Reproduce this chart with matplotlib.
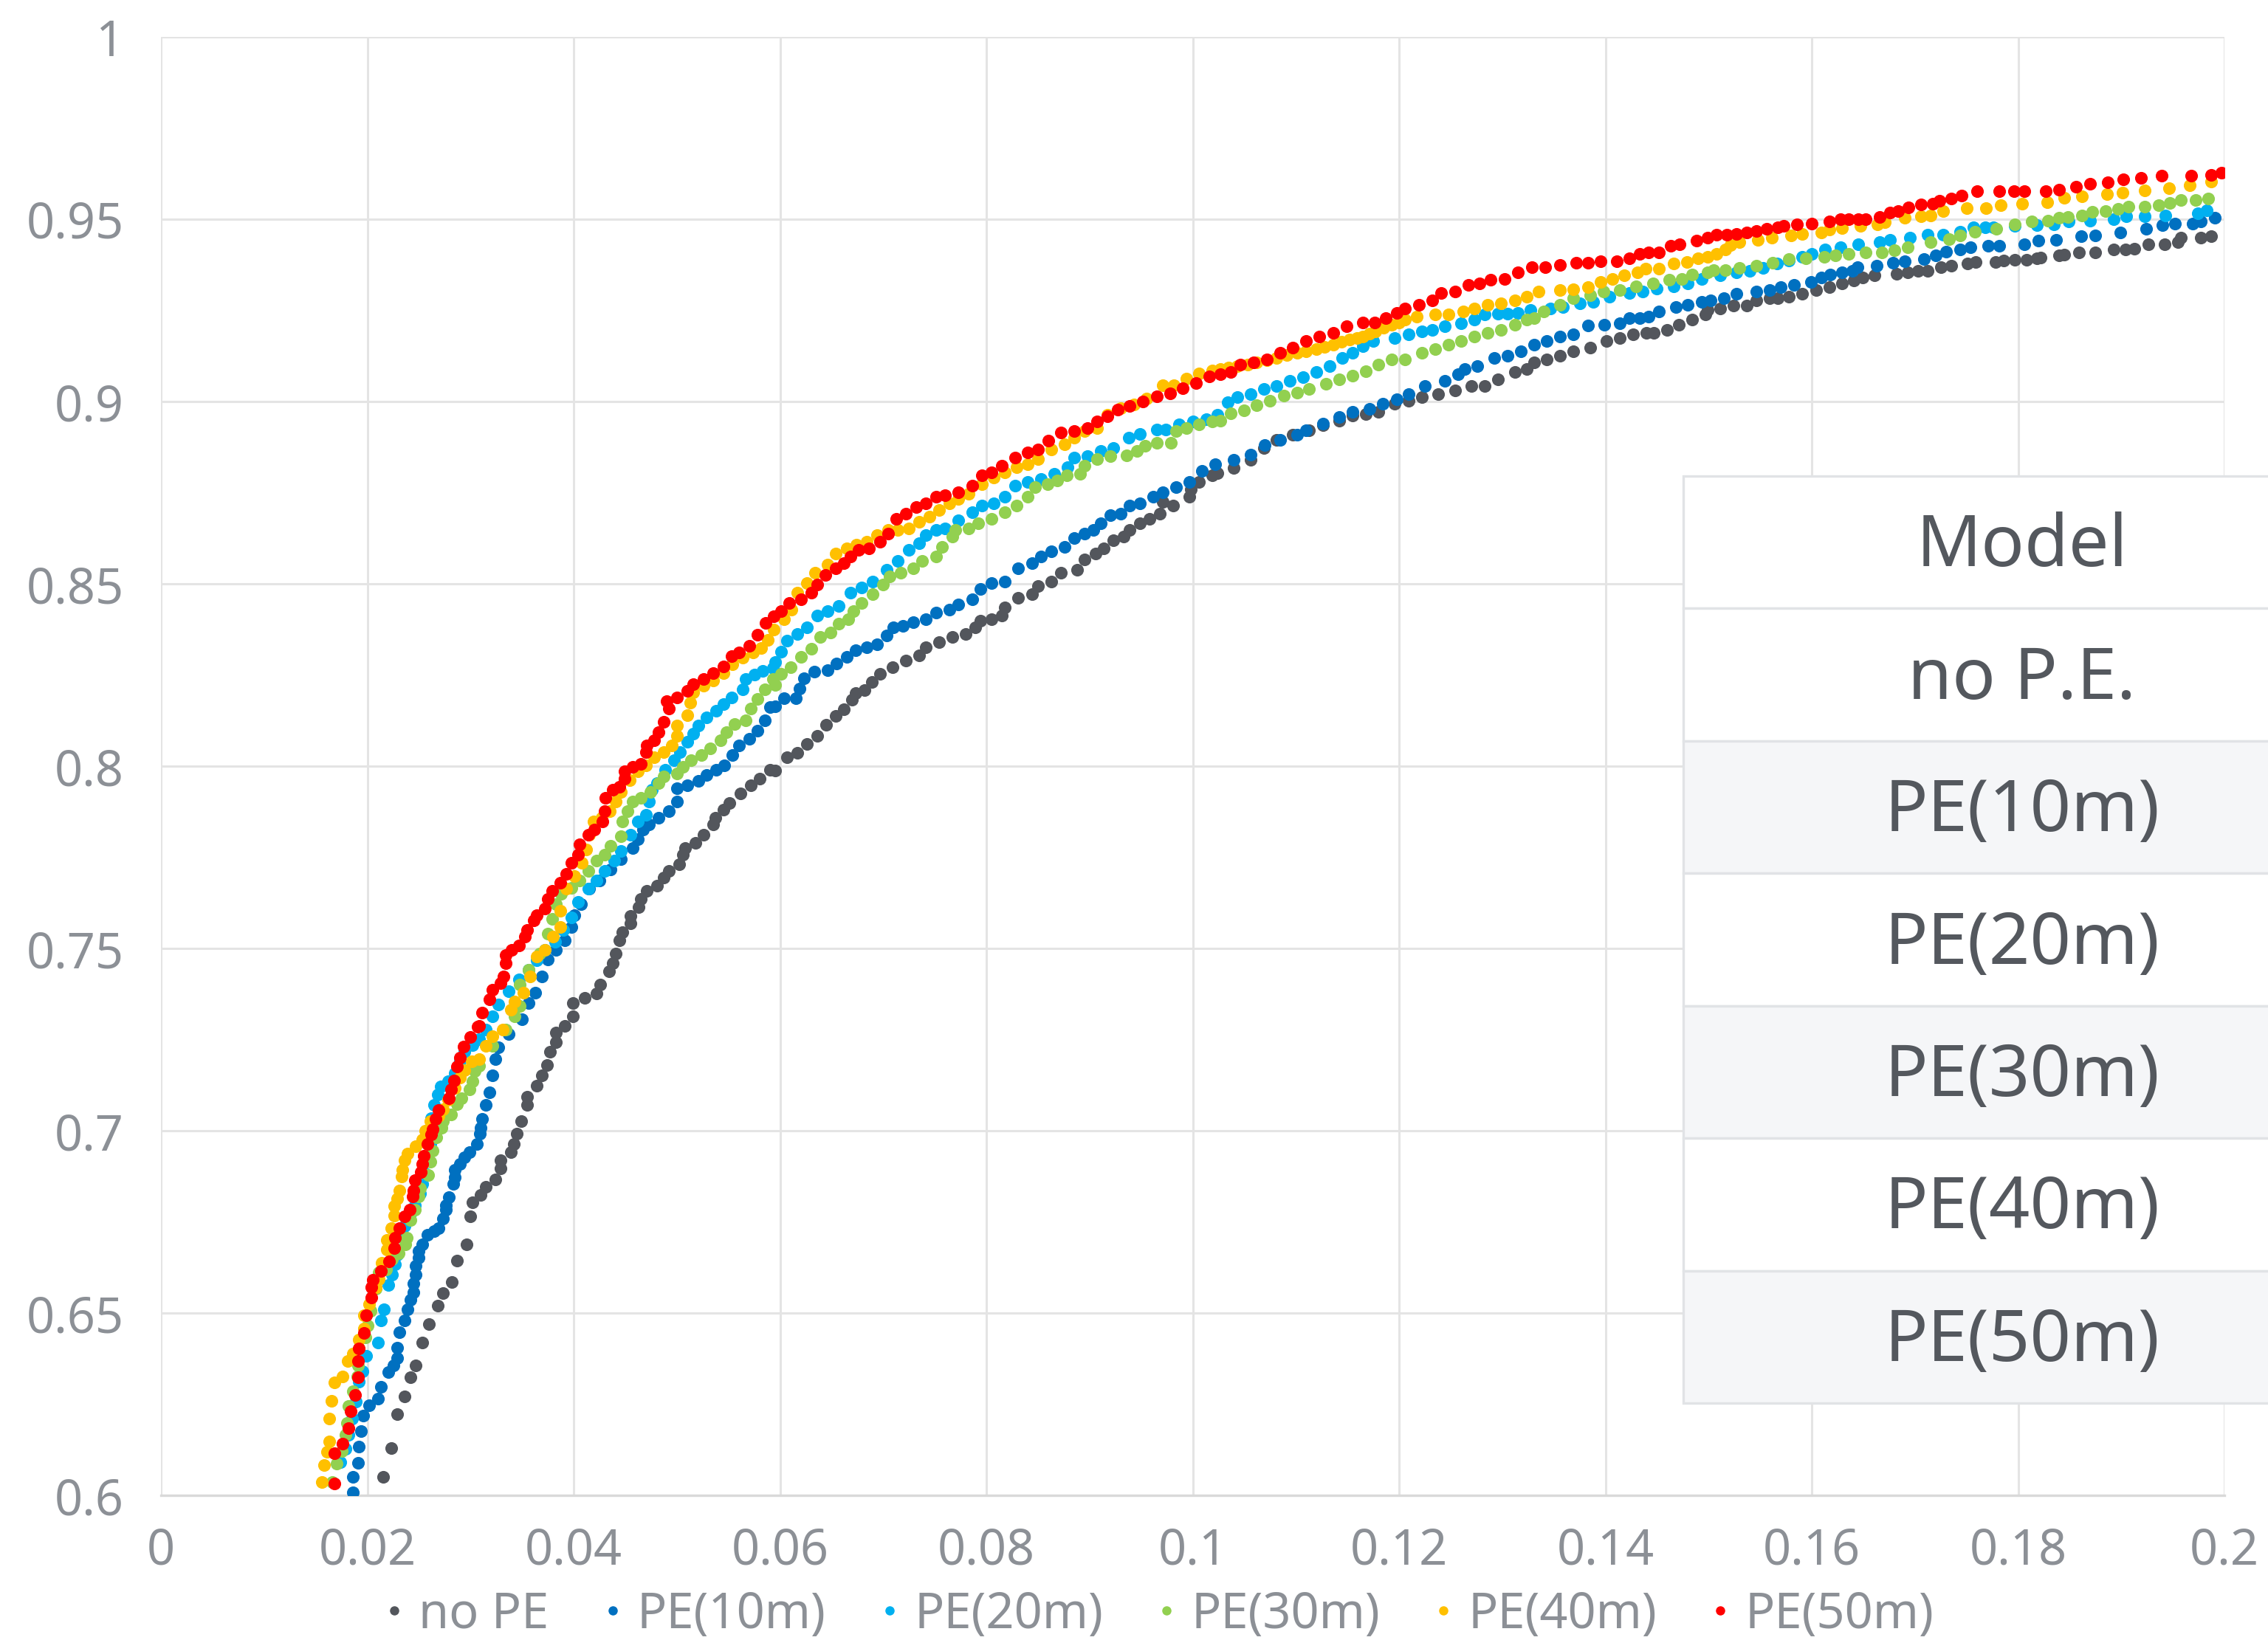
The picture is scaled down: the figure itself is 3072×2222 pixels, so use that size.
import matplotlib
matplotlib.use('Agg')
import matplotlib.pyplot as plt
from matplotlib.lines import Line2D
from matplotlib.patches import Rectangle

plt.rcParams['font.family'] = ['Noto Sans', 'DejaVu Sans']

# values (x = false rate, y = true rate)
no_pe_x = [0.0215, 0.0223, 0.0229, 0.0236, 0.0242, 0.0247, 0.0253, 0.0260, 0.0268, 0.0273, 0.0282, 0.0287,
           0.0296, 0.0300, 0.0302, 0.0310, 0.0315, 0.0324, 0.0329, 0.0329, 0.0339, 0.0342, 0.0345, 0.0349,
           0.0355, 0.0355, 0.0364, 0.0369, 0.0374, 0.0377, 0.0383, 0.0383, 0.0391, 0.0399, 0.0399, 0.0411,
           0.0422, 0.0426, 0.0434, 0.0438, 0.0441, 0.0444, 0.0447, 0.0455, 0.0455, 0.0463, 0.0465, 0.0471,
           0.0481, 0.0487, 0.0492, 0.0502, 0.0506, 0.0508, 0.0518, 0.0526, 0.0535, 0.0537, 0.0545, 0.0551,
           0.0562, 0.0572, 0.0580, 0.0590,
           0.0595, 0.0607, 0.0617, 0.0626, 0.0636, 0.0645, 0.0654, 0.0662, 0.0670, 0.0673, 0.0682, 0.0689,
           0.0697, 0.0709, 0.0722, 0.0735, 0.0741, 0.0754, 0.0767, 0.0780, 0.0789, 0.0794, 0.0805, 0.0815,
           0.0818, 0.0831, 0.0844, 0.0850, 0.0863, 0.0872, 0.0888, 0.0895, 0.0906, 0.0914, 0.0923, 0.0933,
           0.0939, 0.0949, 0.0958, 0.0968, 0.0971, 0.0981, 0.0997, 0.0998, 0.1006, 0.1019,
           0.1024, 0.1040, 0.1056, 0.1069, 0.1081, 0.1097, 0.1113, 0.1126, 0.1142, 0.1155, 0.1168, 0.1180,
           0.1196, 0.1209, 0.1222, 0.1238, 0.1254, 0.1270, 0.1283, 0.1296, 0.1312, 0.1324, 0.1331, 0.1343,
           0.1356, 0.1369, 0.1385, 0.1401, 0.1414, 0.1427, 0.1440, 0.1447, 0.1460, 0.1471, 0.1484, 0.1497,
           0.1499, 0.1511, 0.1524, 0.1537, 0.1546, 0.1559, 0.1567, 0.1578, 0.1591, 0.1604, 0.1617, 0.1629,
           0.1641, 0.1649, 0.1661, 0.1682, 0.1693, 0.1703, 0.1712, 0.1725, 0.1735, 0.1751, 0.1759, 0.1778,
           0.1786, 0.1797, 0.1808, 0.1818, 0.1822, 0.1840, 0.1845, 0.1859, 0.1875, 0.1893, 0.1904, 0.1913,
           0.1926, 0.1942, 0.1955, 0.1958, 0.1977, 0.1987]
no_pe_y = [0.6050, 0.6129, 0.6222, 0.6271, 0.6324, 0.6356, 0.6419, 0.6470, 0.6520, 0.6554, 0.6586, 0.6644,
           0.6688, 0.6766, 0.6803, 0.6824, 0.6846, 0.6866, 0.6896, 0.6920, 0.6941, 0.6964, 0.6991, 0.7027,
           0.7070, 0.7094, 0.7124, 0.7152, 0.7180, 0.7216, 0.7243, 0.7270, 0.7287, 0.7314, 0.7350, 0.7364,
           0.7377, 0.7400, 0.7437, 0.7459, 0.7486, 0.7523, 0.7545, 0.7568, 0.7590, 0.7613, 0.7636, 0.7658,
           0.7672, 0.7695, 0.7713, 0.7731, 0.7758, 0.7776, 0.7790, 0.7812, 0.7840, 0.7858, 0.7880, 0.7899,
           0.7926, 0.7948, 0.7966, 0.7989,
           0.7987, 0.8024, 0.8037, 0.8060, 0.8082, 0.8114, 0.8137, 0.8155, 0.8182, 0.8200, 0.8209, 0.8231,
           0.8254, 0.8272, 0.8290, 0.8304, 0.8326, 0.8340, 0.8354, 0.8363, 0.8381, 0.8399, 0.8403, 0.8412,
           0.8435, 0.8462, 0.8471, 0.8494, 0.8507, 0.8530, 0.8539, 0.8566, 0.8584, 0.8598, 0.8620, 0.8629,
           0.8647, 0.8666, 0.8679, 0.8693, 0.8724, 0.8715, 0.8738, 0.8760, 0.8779, 0.8797,
           0.8804, 0.8817, 0.8840, 0.8872, 0.8894, 0.8908, 0.8921, 0.8935, 0.8948, 0.8962, 0.8965, 0.8971,
           0.8994, 0.9003, 0.9012, 0.9021, 0.9030, 0.9043, 0.9043, 0.9061, 0.9080, 0.9089, 0.9107, 0.9116,
           0.9125, 0.9138, 0.9147, 0.9165, 0.9175, 0.9184, 0.9188, 0.9188, 0.9197, 0.9211, 0.9224, 0.9238,
           0.9251, 0.9255, 0.9264, 0.9264, 0.9278, 0.9283, 0.9284, 0.9287, 0.9296, 0.9305, 0.9314, 0.9323,
           0.9332, 0.9341, 0.9346, 0.9350, 0.9355, 0.9359, 0.9359, 0.9369, 0.9373, 0.9378, 0.9382, 0.9382,
           0.9387, 0.9389, 0.9389, 0.9393, 0.9394, 0.9400, 0.9403, 0.9408, 0.9409, 0.9418, 0.9418, 0.9420,
           0.9432, 0.9432, 0.9437, 0.9450, 0.9450, 0.9453]

pe10_x = [0.0186, 0.0186, 0.0191, 0.0192, 0.0194, 0.0196, 0.0202, 0.0210, 0.0213, 0.0220, 0.0225, 0.0229,
          0.0229, 0.0231, 0.0236, 0.0239, 0.0242, 0.0245, 0.0245, 0.0247, 0.0247, 0.0250, 0.0250, 0.0253,
          0.0258, 0.0265, 0.0269, 0.0273, 0.0276, 0.0276, 0.0279, 0.0283, 0.0285, 0.0285, 0.0290, 0.0294,
          0.0299, 0.0306, 0.0309, 0.0310, 0.0311,
          0.0315, 0.0318, 0.0321, 0.0324, 0.0327, 0.0337, 0.0350, 0.0356, 0.0363, 0.0369, 0.0375, 0.0383,
          0.0391, 0.0398, 0.0401, 0.0407, 0.0415, 0.0425, 0.0436, 0.0446, 0.0457, 0.0462, 0.0467, 0.0473,
          0.0482, 0.0492, 0.0500, 0.0500, 0.0510, 0.0521, 0.0529, 0.0538, 0.0546, 0.0554, 0.0560, 0.0570,
          0.0578, 0.0585, 0.0590,
          0.0595, 0.0604, 0.0615, 0.0619, 0.0623, 0.0633, 0.0646, 0.0655, 0.0665, 0.0673, 0.0684, 0.0694,
          0.0703, 0.0710, 0.0719, 0.0729, 0.0741, 0.0751, 0.0764, 0.0773, 0.0786, 0.0794, 0.0805, 0.0818,
          0.0831, 0.0844, 0.0853, 0.0863, 0.0876, 0.0885, 0.0895, 0.0904, 0.0911, 0.0920, 0.0930, 0.0939,
          0.0949, 0.0962, 0.0971, 0.0984, 0.0997, 0.1009, 0.1022,
          0.1040, 0.1056, 0.1070, 0.1085, 0.1101, 0.1110, 0.1126, 0.1142, 0.1155, 0.1171, 0.1184, 0.1198,
          0.1209, 0.1225, 0.1244, 0.1257, 0.1264, 0.1276, 0.1292, 0.1305, 0.1318, 0.1331, 0.1343, 0.1356,
          0.1369, 0.1383, 0.1399, 0.1414, 0.1423, 0.1433, 0.1442, 0.1452, 0.1468, 0.1480, 0.1493,
          0.1502, 0.1515, 0.1527, 0.1546, 0.1559, 0.1570, 0.1583, 0.1599, 0.1609, 0.1618, 0.1629, 0.1639,
          0.1644, 0.1663, 0.1679, 0.1690, 0.1709, 0.1720, 0.1730, 0.1744, 0.1754, 0.1771, 0.1782, 0.1806,
          0.1820, 0.1837, 0.1861, 0.1875, 0.1899, 0.1924, 0.1940, 0.1952, 0.1969, 0.1977, 0.1991]
pe10_y = [0.6009, 0.6050, 0.6089, 0.6134, 0.6176, 0.6218, 0.6247, 0.6265, 0.6298, 0.6339, 0.6357, 0.6376,
          0.6405, 0.6448, 0.6480, 0.6511, 0.6537, 0.6557, 0.6582, 0.6606, 0.6629, 0.6652, 0.6670, 0.6688,
          0.6715, 0.6724, 0.6733, 0.6760, 0.6783, 0.6796, 0.6817, 0.6855, 0.6873, 0.6893, 0.6909, 0.6928,
          0.6941, 0.6964, 0.6991, 0.7009, 0.7032,
          0.7070, 0.7106, 0.7152, 0.7197, 0.7229, 0.7265, 0.7306, 0.7351, 0.7378, 0.7423, 0.7469, 0.7496,
          0.7523, 0.7559, 0.7591, 0.7622, 0.7663, 0.7686, 0.7717, 0.7745, 0.7776, 0.7799, 0.7826, 0.7840,
          0.7858, 0.7876, 0.7903, 0.7939, 0.7948, 0.7959, 0.7976, 0.7989, 0.8003, 0.8030, 0.8057, 0.8075,
          0.8098, 0.8125, 0.8161,
          0.8164, 0.8186, 0.8186, 0.8213, 0.8241, 0.8259, 0.8263, 0.8281, 0.8299, 0.8317, 0.8326, 0.8335,
          0.8358, 0.8381, 0.8385, 0.8394, 0.8403, 0.8421, 0.8430, 0.8444, 0.8458, 0.8485, 0.8503, 0.8507,
          0.8543, 0.8557, 0.8575, 0.8589, 0.8602, 0.8625, 0.8638, 0.8647, 0.8666, 0.8688, 0.8693, 0.8715,
          0.8720, 0.8738, 0.8751, 0.8765, 0.8779, 0.8810, 0.8828,
          0.8840, 0.8854, 0.8881, 0.8894, 0.8908, 0.8921, 0.8939, 0.8957, 0.8971, 0.8980, 0.8994, 0.9007,
          0.9021, 0.9043, 0.9057, 0.9075, 0.9089, 0.9098, 0.9120, 0.9125, 0.9138, 0.9156, 0.9165, 0.9179,
          0.9184, 0.9208, 0.9211, 0.9215, 0.9229, 0.9229, 0.9233, 0.9247, 0.9260, 0.9265, 0.9274,
          0.9278, 0.9284, 0.9296, 0.9301, 0.9305, 0.9314, 0.9319, 0.9328, 0.9341, 0.9349, 0.9355, 0.9359,
          0.9369, 0.9373, 0.9380, 0.9384, 0.9391, 0.9400, 0.9411, 0.9417, 0.9423, 0.9428, 0.9428, 0.9432,
          0.9441, 0.9444, 0.9453, 0.9455, 0.9464, 0.9473, 0.9484, 0.9488, 0.9488, 0.9493, 0.9505]

pe20_x = [0.0174, 0.0179, 0.0182, 0.0185, 0.0189, 0.0192, 0.0195, 0.0199, 0.0210, 0.0213, 0.0216, 0.0220,
          0.0224, 0.0227, 0.0229, 0.0231, 0.0236, 0.0242, 0.0246, 0.0251, 0.0253, 0.0256, 0.0259, 0.0261,
          0.0261, 0.0262, 0.0265, 0.0268, 0.0271, 0.0278, 0.0285, 0.0290, 0.0294, 0.0302,
          0.0308, 0.0315, 0.0321, 0.0327, 0.0337, 0.0347, 0.0356, 0.0364, 0.0372, 0.0382, 0.0390, 0.0398,
          0.0404, 0.0414, 0.0422, 0.0430, 0.0439, 0.0446, 0.0455, 0.0462, 0.0470, 0.0473, 0.0476, 0.0481,
          0.0489, 0.0497, 0.0503, 0.0510, 0.0516, 0.0521, 0.0529, 0.0538, 0.0545, 0.0553, 0.0564, 0.0567,
          0.0575, 0.0583, 0.0593,
          0.0595, 0.0601, 0.0607, 0.0617, 0.0626, 0.0636, 0.0646, 0.0657, 0.0668, 0.0679, 0.0690, 0.0703,
          0.0714, 0.0725, 0.0735, 0.0741, 0.0751, 0.0760, 0.0773, 0.0786, 0.0796, 0.0807, 0.0818, 0.0828,
          0.0840, 0.0853, 0.0866, 0.0879, 0.0885, 0.0898, 0.0911, 0.0923, 0.0938, 0.0949, 0.0965, 0.0974,
          0.0987, 0.1000, 0.1013, 0.1024,
          0.1034, 0.1043, 0.1056, 0.1069, 0.1081, 0.1094, 0.1107, 0.1120, 0.1133, 0.1145, 0.1155, 0.1165,
          0.1175, 0.1196, 0.1209, 0.1222, 0.1232, 0.1244, 0.1260, 0.1273, 0.1283, 0.1296, 0.1305, 0.1315,
          0.1327, 0.1347, 0.1359, 0.1375, 0.1388, 0.1404, 0.1423, 0.1436, 0.1450, 0.1466, 0.1480, 0.1493,
          0.1511, 0.1527, 0.1540, 0.1553, 0.1566, 0.1578, 0.1591, 0.1600, 0.1613, 0.1628, 0.1645, 0.1666,
          0.1676, 0.1695, 0.1712, 0.1727, 0.1744, 0.1757, 0.1768, 0.1776, 0.1797, 0.1818, 0.1835, 0.1849,
          0.1870, 0.1893, 0.1905, 0.1923, 0.1943, 0.1974, 0.1983]
pe20_y = [0.6091, 0.6127, 0.6167, 0.6211, 0.6258, 0.6312, 0.6341, 0.6383, 0.6419, 0.6480, 0.6511, 0.6576,
          0.6606, 0.6633, 0.6660, 0.6710, 0.6738, 0.6774, 0.6796, 0.6828, 0.6855, 0.6882, 0.6919, 0.6964,
          0.7000, 0.7034, 0.7070, 0.7100, 0.7122, 0.7136, 0.7158, 0.7190, 0.7217, 0.7235,
          0.7251, 0.7278, 0.7314, 0.7346, 0.7382, 0.7414, 0.7441, 0.7468, 0.7496, 0.7518, 0.7550, 0.7586,
          0.7627, 0.7663, 0.7686, 0.7713, 0.7740, 0.7767, 0.7812, 0.7849, 0.7867, 0.7903, 0.7935, 0.7953,
          0.7989, 0.8016, 0.8039, 0.8066, 0.8089, 0.8111, 0.8134, 0.8152, 0.8170, 0.8188, 0.8211, 0.8238,
          0.8252, 0.8261, 0.8270,
          0.8286, 0.8313, 0.8345, 0.8363, 0.8381, 0.8412, 0.8426, 0.8439, 0.8476, 0.8489, 0.8507, 0.8539,
          0.8562, 0.8593, 0.8611, 0.8634, 0.8647, 0.8652, 0.8675, 0.8697, 0.8715, 0.8720, 0.8738, 0.8770,
          0.8779, 0.8788, 0.8801, 0.8819, 0.8846, 0.8851, 0.8864, 0.8873, 0.8901, 0.8910, 0.8924, 0.8924,
          0.8937, 0.8946, 0.8951, 0.8964,
          0.8998, 0.9012, 0.9021, 0.9034, 0.9043, 0.9057, 0.9066, 0.9080, 0.9098, 0.9120, 0.9134, 0.9152,
          0.9165, 0.9175, 0.9184, 0.9193, 0.9197, 0.9206, 0.9215, 0.9224, 0.9238, 0.9240, 0.9240, 0.9242,
          0.9251, 0.9256, 0.9260, 0.9269, 0.9274, 0.9288, 0.9297, 0.9301, 0.9310, 0.9315, 0.9324, 0.9337,
          0.9346, 0.9355, 0.9359, 0.9366, 0.9378, 0.9387, 0.9396, 0.9405, 0.9418, 0.9423, 0.9432, 0.9437,
          0.9444, 0.9450, 0.9457, 0.9457, 0.9466, 0.9477, 0.9477, 0.9477, 0.9482, 0.9484, 0.9486, 0.9493,
          0.9495, 0.9500, 0.9509, 0.9509, 0.9511, 0.9516, 0.9525]

pe30_x = [0.0166, 0.0170, 0.0175, 0.0179, 0.0180, 0.0182, 0.0186, 0.0190, 0.0191, 0.0192, 0.0198, 0.0200,
          0.0203, 0.0208, 0.0211, 0.0218, 0.0224, 0.0230, 0.0237, 0.0238, 0.0242, 0.0246, 0.0250, 0.0251,
          0.0259, 0.0261, 0.0263, 0.0267, 0.0272, 0.0273, 0.0281, 0.0287, 0.0291, 0.0299, 0.0302, 0.0304,
          0.0308, 0.0321, 0.0334, 0.0343, 0.0348, 0.0348, 0.0356, 0.0367, 0.0375, 0.0379, 0.0383, 0.0388,
          0.0398, 0.0406, 0.0414, 0.0422, 0.0430, 0.0436, 0.0446, 0.0447, 0.0452, 0.0457, 0.0465, 0.0474,
          0.0482, 0.0487, 0.0500, 0.0506, 0.0514, 0.0524, 0.0532, 0.0542, 0.0548, 0.0556, 0.0567, 0.0572,
          0.0578, 0.0585, 0.0593,
          0.0595, 0.0601, 0.0610, 0.0620, 0.0630, 0.0639, 0.0649, 0.0657, 0.0666, 0.0671, 0.0679, 0.0690,
          0.0700, 0.0706, 0.0717, 0.0729, 0.0738, 0.0751, 0.0757, 0.0767, 0.0770, 0.0783, 0.0792, 0.0805,
          0.0818, 0.0829, 0.0840, 0.0847, 0.0859, 0.0869, 0.0878, 0.0891, 0.0895, 0.0907, 0.0920, 0.0936,
          0.0946, 0.0954, 0.0965, 0.0979, 0.0984, 0.0994, 0.1006, 0.1019,
          0.1027, 0.1037, 0.1050, 0.1062, 0.1075, 0.1088, 0.1101, 0.1113, 0.1129, 0.1142, 0.1155, 0.1168,
          0.1180, 0.1193, 0.1206, 0.1222, 0.1235, 0.1248, 0.1260, 0.1273, 0.1286, 0.1299, 0.1312, 0.1324,
          0.1331, 0.1340, 0.1356, 0.1369, 0.1385, 0.1398, 0.1414, 0.1430, 0.1446, 0.1462, 0.1474, 0.1484,
          0.1499,
          0.1505, 0.1516, 0.1530, 0.1546, 0.1562, 0.1578, 0.1594, 0.1612, 0.1623, 0.1636, 0.1652, 0.1668,
          0.1680, 0.1693, 0.1715, 0.1733, 0.1744, 0.1758, 0.1779, 0.1797, 0.1813, 0.1829, 0.1840, 0.1848,
          0.1862, 0.1872, 0.1885, 0.1897, 0.1907, 0.1923, 0.1936, 0.1947, 0.1958, 0.1972, 0.1984]
pe30_y = [0.6036, 0.6088, 0.6122, 0.6167, 0.6199, 0.6244, 0.6285, 0.6326, 0.6357, 0.6403, 0.6434, 0.6466,
          0.6507, 0.6566, 0.6611, 0.6620, 0.6647, 0.6665, 0.6688, 0.6706, 0.6756, 0.6783, 0.6819, 0.6842,
          0.6878, 0.6914, 0.6946, 0.6982, 0.7009, 0.7027, 0.7045, 0.7072, 0.7090, 0.7113, 0.7136, 0.7163,
          0.7179, 0.7233, 0.7278, 0.7314, 0.7342, 0.7400, 0.7441, 0.7486, 0.7541, 0.7582, 0.7622, 0.7649,
          0.7667, 0.7686, 0.7713, 0.7740, 0.7758, 0.7781, 0.7808, 0.7849, 0.7876, 0.7903, 0.7912, 0.7930,
          0.7953, 0.7971, 0.7980, 0.7998, 0.8016, 0.8030, 0.8048, 0.8071, 0.8093, 0.8116, 0.8125, 0.8157,
          0.8184, 0.8211, 0.8238,
          0.8222, 0.8254, 0.8272, 0.8299, 0.8322, 0.8354, 0.8367, 0.8390, 0.8403, 0.8426, 0.8448, 0.8471,
          0.8498, 0.8521, 0.8530, 0.8543, 0.8562, 0.8575, 0.8602, 0.8629, 0.8647, 0.8652, 0.8666, 0.8679,
          0.8697, 0.8715, 0.8738, 0.8765, 0.8774, 0.8783, 0.8797, 0.8801, 0.8824, 0.8842, 0.8851, 0.8853,
          0.8864, 0.8878, 0.8887, 0.8887, 0.8919, 0.8928, 0.8937, 0.8946,
          0.8948, 0.8967, 0.8976, 0.8989, 0.9003, 0.9016, 0.9025, 0.9034, 0.9048, 0.9061, 0.9070, 0.9084,
          0.9102, 0.9116, 0.9116, 0.9134, 0.9143, 0.9156, 0.9165, 0.9179, 0.9188, 0.9197, 0.9211, 0.9224,
          0.9229, 0.9247, 0.9265, 0.9283, 0.9292, 0.9301, 0.9306, 0.9315, 0.9324, 0.9333, 0.9337, 0.9349,
          0.9355,
          0.9360, 0.9360, 0.9366, 0.9373, 0.9380, 0.9391, 0.9393, 0.9396, 0.9400, 0.9405, 0.9408, 0.9409,
          0.9414, 0.9423, 0.9437, 0.9446, 0.9455, 0.9466, 0.9473, 0.9486, 0.9493, 0.9495, 0.9505, 0.9507,
          0.9511, 0.9520, 0.9523, 0.9529, 0.9534, 0.9534, 0.9538, 0.9545, 0.9552, 0.9552, 0.9557]

pe40_x = [0.0156, 0.0158, 0.0161, 0.0163, 0.0163, 0.0165, 0.0168, 0.0176, 0.0181, 0.0186, 0.0192, 0.0197,
          0.0197, 0.0202, 0.0208, 0.0211, 0.0214, 0.0219, 0.0219, 0.0223, 0.0226, 0.0226, 0.0229, 0.0231,
          0.0233, 0.0234, 0.0236, 0.0239, 0.0247, 0.0253, 0.0256, 0.0261, 0.0269, 0.0273, 0.0278, 0.0285,
          0.0290, 0.0294, 0.0301,
          0.0308, 0.0315, 0.0321, 0.0331, 0.0339, 0.0343, 0.0351, 0.0358, 0.0364, 0.0372, 0.0380, 0.0387,
          0.0387, 0.0393, 0.0401, 0.0408, 0.0412, 0.0415, 0.0419, 0.0427, 0.0435, 0.0441, 0.0446, 0.0454,
          0.0462, 0.0470, 0.0478, 0.0487, 0.0495, 0.0500, 0.0500, 0.0510, 0.0513, 0.0516, 0.0526, 0.0535,
          0.0545, 0.0554, 0.0564, 0.0574, 0.0582, 0.0588, 0.0594,
          0.0604, 0.0611, 0.0617, 0.0626, 0.0634, 0.0646, 0.0654, 0.0665, 0.0674, 0.0684, 0.0694, 0.0705,
          0.0714, 0.0725, 0.0735, 0.0745, 0.0754, 0.0764, 0.0773, 0.0783, 0.0796, 0.0807, 0.0818, 0.0829,
          0.0840, 0.0850, 0.0863, 0.0876, 0.0885, 0.0895, 0.0907, 0.0917, 0.0930, 0.0943, 0.0955, 0.0971,
          0.0982, 0.0994, 0.1006, 0.1019,
          0.1027, 0.1035, 0.1043, 0.1053, 0.1062, 0.1072, 0.1081, 0.1091, 0.1101, 0.1110, 0.1120, 0.1128,
          0.1136, 0.1144, 0.1152, 0.1159, 0.1165, 0.1171, 0.1177, 0.1185, 0.1193, 0.1200, 0.1206, 0.1217,
          0.1235, 0.1248, 0.1262, 0.1273, 0.1286, 0.1299, 0.1312, 0.1324, 0.1335, 0.1356, 0.1369, 0.1383,
          0.1395, 0.1407, 0.1418, 0.1431, 0.1439, 0.1452, 0.1466, 0.1479, 0.1490,
          0.1499, 0.1508, 0.1516, 0.1521, 0.1530, 0.1548, 0.1561, 0.1580, 0.1591, 0.1609, 0.1617, 0.1629,
          0.1647, 0.1664, 0.1671, 0.1690, 0.1706, 0.1715, 0.1727, 0.1750, 0.1769, 0.1783, 0.1804, 0.1828,
          0.1845, 0.1862, 0.1886, 0.1901, 0.1923, 0.1946, 0.1966, 0.1987]
pe40_y = [0.6036, 0.6083, 0.6120, 0.6147, 0.6210, 0.6260, 0.6310, 0.6326, 0.6369, 0.6389, 0.6428, 0.6457,
          0.6493, 0.6525, 0.6570, 0.6593, 0.6638, 0.6674, 0.6701, 0.6733, 0.6767, 0.6794, 0.6814, 0.6837,
          0.6875, 0.6893, 0.6919, 0.6937, 0.6957, 0.6975, 0.7000, 0.7027, 0.7041, 0.7059, 0.7086, 0.7118,
          0.7145, 0.7167, 0.7190,
          0.7197, 0.7233, 0.7260, 0.7278, 0.7333, 0.7355, 0.7378, 0.7423, 0.7477, 0.7496, 0.7532, 0.7559,
          0.7604, 0.7663, 0.7699, 0.7735, 0.7772, 0.7812, 0.7849, 0.7858, 0.7876, 0.7903, 0.7930, 0.7962,
          0.7985, 0.8003, 0.8025, 0.8039, 0.8057, 0.8084, 0.8111, 0.8139, 0.8175, 0.8202, 0.8220, 0.8234,
          0.8256, 0.8279, 0.8297, 0.8311, 0.8324, 0.8347, 0.8374,
          0.8403, 0.8430, 0.8476, 0.8503, 0.8530, 0.8552, 0.8584, 0.8598, 0.8607, 0.8616, 0.8634, 0.8647,
          0.8648, 0.8652, 0.8670, 0.8684, 0.8702, 0.8720, 0.8733, 0.8747, 0.8774, 0.8792, 0.8806, 0.8819,
          0.8828, 0.8842, 0.8869, 0.8882, 0.8901, 0.8919, 0.8928, 0.8964, 0.8982, 0.8991, 0.9009, 0.9045,
          0.9045, 0.9063, 0.9077, 0.9086,
          0.9089, 0.9093, 0.9098, 0.9102, 0.9107, 0.9114, 0.9120, 0.9127, 0.9134, 0.9138, 0.9143, 0.9150,
          0.9156, 0.9163, 0.9170, 0.9175, 0.9179, 0.9186, 0.9193, 0.9202, 0.9211, 0.9217, 0.9224, 0.9233,
          0.9238, 0.9238, 0.9247, 0.9256, 0.9265, 0.9269, 0.9278, 0.9288, 0.9301, 0.9306, 0.9307, 0.9313,
          0.9328, 0.9337, 0.9346, 0.9355, 0.9364, 0.9364, 0.9378, 0.9382, 0.9392,
          0.9396, 0.9405, 0.9418, 0.9429, 0.9437, 0.9443, 0.9450, 0.9455, 0.9459, 0.9464, 0.9471, 0.9475,
          0.9482, 0.9486, 0.9491, 0.9505, 0.9509, 0.9511, 0.9523, 0.9530, 0.9531, 0.9538, 0.9543, 0.9547,
          0.9559, 0.9562, 0.9568, 0.9572, 0.9579, 0.9586, 0.9593, 0.9604]

pe50_x = [0.0168, 0.0168, 0.0176, 0.0182, 0.0184, 0.0188, 0.0191, 0.0191, 0.0192, 0.0197, 0.0199, 0.0204,
          0.0204, 0.0205, 0.0213, 0.0221, 0.0226, 0.0227, 0.0231, 0.0236, 0.0241, 0.0244, 0.0245, 0.0246,
          0.0252, 0.0253, 0.0255, 0.0258, 0.0262, 0.0263, 0.0266, 0.0269, 0.0279, 0.0281, 0.0284, 0.0287,
          0.0290, 0.0293, 0.0300, 0.0307,
          0.0308, 0.0311, 0.0318, 0.0321, 0.0329, 0.0332, 0.0334, 0.0334, 0.0340, 0.0347, 0.0353, 0.0355,
          0.0361, 0.0364, 0.0372, 0.0375, 0.0379, 0.0387, 0.0393, 0.0398, 0.0404, 0.0406, 0.0414, 0.0420,
          0.0428, 0.0430, 0.0431, 0.0438, 0.0444, 0.0449, 0.0449, 0.0457, 0.0465, 0.0470, 0.0471, 0.0478,
          0.0482, 0.0487, 0.0492, 0.0490, 0.0500, 0.0510, 0.0516, 0.0526, 0.0535, 0.0545, 0.0553, 0.0560,
          0.0570, 0.0578, 0.0586, 0.0594,
          0.0601, 0.0609, 0.0620, 0.0630, 0.0636, 0.0644, 0.0654, 0.0662, 0.0668, 0.0676, 0.0686, 0.0697,
          0.0705, 0.0713, 0.0722, 0.0732, 0.0741, 0.0751, 0.0760, 0.0773, 0.0786, 0.0796, 0.0805, 0.0815,
          0.0828, 0.0840, 0.0850, 0.0860, 0.0872, 0.0885, 0.0898, 0.0907, 0.0917, 0.0927, 0.0939, 0.0952,
          0.0965, 0.0978, 0.0990, 0.1003, 0.1016,
          0.1027, 0.1037, 0.1046, 0.1059, 0.1072, 0.1085, 0.1097, 0.1110, 0.1123, 0.1136, 0.1149, 0.1165,
          0.1176, 0.1187, 0.1198, 0.1206, 0.1219, 0.1232, 0.1241, 0.1254, 0.1267, 0.1278, 0.1289, 0.1302,
          0.1315, 0.1329, 0.1342, 0.1356, 0.1372, 0.1383, 0.1395, 0.1411, 0.1423, 0.1433, 0.1442, 0.1452,
          0.1463, 0.1472, 0.1488,
          0.1499, 0.1508, 0.1518, 0.1527, 0.1537, 0.1546, 0.1556, 0.1567, 0.1573, 0.1586, 0.1600, 0.1617,
          0.1628, 0.1636, 0.1645, 0.1652, 0.1666, 0.1676, 0.1684, 0.1694, 0.1706, 0.1717, 0.1724, 0.1735,
          0.1745, 0.1760, 0.1782, 0.1796, 0.1806, 0.1827, 0.1840, 0.1856, 0.1870, 0.1887, 0.1902, 0.1919,
          0.1939, 0.1968, 0.1987, 0.1997]
pe50_y = [0.6033, 0.6115, 0.6142, 0.6184, 0.6231, 0.6276, 0.6324, 0.6369, 0.6403, 0.6446, 0.6493, 0.6543,
          0.6570, 0.6591, 0.6615, 0.6641, 0.6679, 0.6706, 0.6733, 0.6766, 0.6783, 0.6819, 0.6837, 0.6864,
          0.6887, 0.6909, 0.6932, 0.6964, 0.6989, 0.7005, 0.7032, 0.7056, 0.7090, 0.7113, 0.7138, 0.7176,
          0.7201, 0.7231, 0.7258, 0.7285,
          0.7287, 0.7323, 0.7360, 0.7387, 0.7405, 0.7423, 0.7459, 0.7482, 0.7496, 0.7509, 0.7532, 0.7550,
          0.7577, 0.7591, 0.7609, 0.7636, 0.7658, 0.7681, 0.7704, 0.7735, 0.7758, 0.7785, 0.7812, 0.7826,
          0.7849, 0.7876, 0.7912, 0.7935, 0.7944, 0.7966, 0.7985, 0.7998, 0.8007, 0.8039, 0.8057, 0.8071,
          0.8093, 0.8121, 0.8157, 0.8179, 0.8188, 0.8206, 0.8225, 0.8238, 0.8256, 0.8274, 0.8302, 0.8311,
          0.8329, 0.8361, 0.8392, 0.8410,
          0.8426, 0.8448, 0.8457, 0.8476, 0.8498, 0.8525, 0.8543, 0.8557, 0.8575, 0.8593, 0.8598, 0.8616,
          0.8638, 0.8679, 0.8693, 0.8711, 0.8720, 0.8738, 0.8742, 0.8751, 0.8770, 0.8797, 0.8806, 0.8824,
          0.8846, 0.8860, 0.8869, 0.8892, 0.8914, 0.8919, 0.8928, 0.8946, 0.8960, 0.8978, 0.8987, 0.9000,
          0.9014, 0.9023, 0.9036, 0.9050, 0.9068,
          0.9075, 0.9080, 0.9102, 0.9107, 0.9116, 0.9134, 0.9147, 0.9165, 0.9179, 0.9188, 0.9206, 0.9217,
          0.9217, 0.9229, 0.9242, 0.9256, 0.9265, 0.9278, 0.9297, 0.9301, 0.9319, 0.9324, 0.9335, 0.9337,
          0.9355, 0.9369, 0.9369, 0.9375, 0.9381, 0.9381, 0.9384, 0.9384, 0.9392, 0.9405, 0.9409, 0.9409,
          0.9428, 0.9432, 0.9441,
          0.9450, 0.9457, 0.9457, 0.9459, 0.9464, 0.9468, 0.9473, 0.9477, 0.9482, 0.9486, 0.9488, 0.9493,
          0.9500, 0.9500, 0.9500, 0.9500, 0.9507, 0.9518, 0.9523, 0.9532, 0.9541, 0.9543, 0.9550, 0.9556,
          0.9565, 0.9577, 0.9577, 0.9577, 0.9577, 0.9577, 0.9580, 0.9589, 0.9598, 0.9602, 0.9609, 0.9613,
          0.9620, 0.9620, 0.9622, 0.9628]

series_names = ['no PE', 'PE(10m)', 'PE(20m)', 'PE(30m)', 'PE(40m)', 'PE(50m)']
series_x = [no_pe_x, pe10_x, pe20_x, pe30_x, pe40_x, pe50_x]
series_y = [no_pe_y, pe10_y, pe20_y, pe30_y, pe40_y, pe50_y]
colors = ['#53565c', '#0070c0', '#00b0f0', '#92d050', '#ffc000', '#ff0000']

x_ticks = [0, 0.02, 0.04, 0.06, 0.08, 0.1, 0.12, 0.14, 0.16, 0.18, 0.2]
x_labels = ['0', '0.02', '0.04', '0.06', '0.08', '0.1', '0.12', '0.14', '0.16', '0.18', '0.2']
y_ticks = [0.6, 0.65, 0.7, 0.75, 0.8, 0.85, 0.9, 0.95, 1.0]
y_labels = ['0.6', '0.65', '0.7', '0.75', '0.8', '0.85', '0.9', '0.95', '1']

table_rows = ['Model', 'no P.E.', 'PE(10m)', 'PE(20m)', 'PE(30m)', 'PE(40m)', 'PE(50m)']
row_shaded = [False, False, True, False, True, False, True]

label_color = '#8c9096'
grid_color = '#e4e4e4'

fig = plt.figure(figsize=(15.36, 11.11), dpi=200)
ax = fig.add_axes([0.071, 0.0882, 0.9098, 0.8893])

for xs, ys, c in zip(series_x, series_y, colors):
    ax.scatter(xs, ys, s=38, color=c, linewidths=0, zorder=3)

ax.set_xlim(0, 0.2)
ax.set_ylim(0.6, 1.0)
ax.set_xticks(x_ticks)
ax.set_xticklabels(x_labels)
ax.set_yticks(y_ticks)
ax.set_yticklabels(y_labels)
ax.tick_params(length=0, labelsize=24, labelcolor=label_color)
ax.tick_params(axis='y', pad=18)
ax.tick_params(axis='x', pad=15)
ax.grid(True, color=grid_color, linewidth=1.1, zorder=0)
ax.set_axisbelow(True)
for side in ['top', 'right', 'left']:
    ax.spines[side].set_visible(False)
ax.spines['bottom'].set_color('#d9d9d9')
ax.spines['bottom'].set_linewidth(1.2)

# legend along the bottom
handles = [Line2D([], [], linestyle='none', marker='o', markersize=4.5,
                  markerfacecolor=c, markeredgewidth=0) for c in colors]
fig.legend(handles, series_names, loc='center', bbox_to_anchor=(0.51, 0.0155), ncol=6,
           frameon=False, fontsize=24, labelcolor=label_color, handlelength=0.6,
           handletextpad=0.2, columnspacing=0.99, borderaxespad=0)

# the model table pasted over the right side of the chart (runs off the page)
tab = fig.add_axes([0.7422, 0.1445, 0.2988, 0.5652])
tab.set_xlim(0, 1)
tab.set_ylim(0, len(table_rows))
tab.axis('off')
for i, (name, shaded) in enumerate(zip(table_rows, row_shaded)):
    y0 = len(table_rows) - 1 - i
    tab.add_patch(Rectangle((0, y0), 1, 1, facecolor='#f5f6f8' if shaded else 'white',
                            edgecolor='#e1e3e6', linewidth=1.2, clip_on=False))
    tab.text(0.5, y0 + 0.46, name, ha='center', va='center', fontsize=35, color='#54585e')

fig.savefig('out.png', dpi=200)
